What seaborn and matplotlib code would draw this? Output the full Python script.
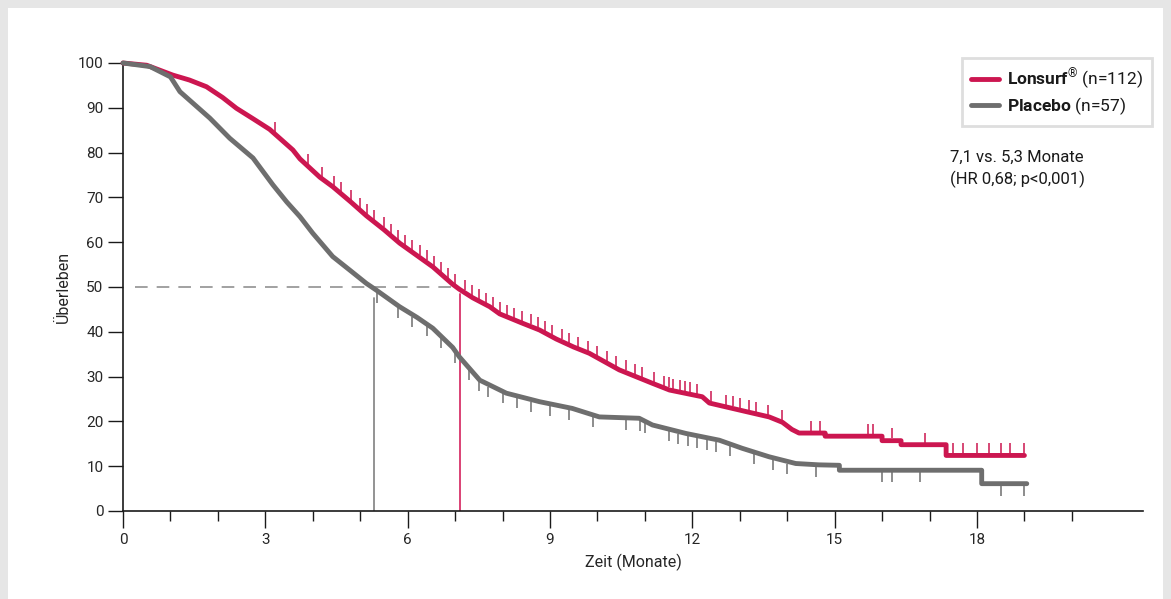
import numpy as np
import pandas as pd
import matplotlib.pyplot as plt
import matplotlib.ticker as ticker
import matplotlib.font_manager as fm
import seaborn as sns
from matplotlib.lines import Line2D
from matplotlib.patches import Rectangle

sns.set_theme(style="white")
installed = {f.name for f in fm.fontManager.ttflist}
main_font = next(f for f in ['Liberation Sans Narrow', 'Roboto', 'Liberation Sans', 'DejaVu Sans']
                 if f in installed)
plt.rcParams['font.family'] = [main_font, 'DejaVu Sans']
plt.rcParams['mathtext.fontset'] = 'custom'
plt.rcParams['mathtext.rm'] = main_font
plt.rcParams['mathtext.bf'] = main_font + ':bold'
plt.rcParams['text.color'] = '#1a1a1a'

# Kaplan-Meier curves (months, survival %)
lonsurf_t = [0, 0.5, 1.05, 1.4, 1.76, 2.1, 2.39, 2.75, 3.09, 3.58, 3.73, 4.15, 4.42, 4.8,
             5.13, 5.5, 5.83, 6.2, 6.53, 6.95, 7.09, 7.37, 7.73, 7.94, 8.4, 8.78, 9.13,
             9.5, 9.83, 10.46, 10.81, 11.16, 11.52, 12.21, 12.36, 13.13, 13.62, 13.9, 14.1,
             14.25, 14.8, 14.8, 16.0, 16.0, 16.4, 16.4, 17.35, 17.35, 19.0]
lonsurf_s = [100, 99.5, 97.3, 96.2, 94.7, 92.3, 89.9, 87.5, 85.2, 80.6, 78.6, 74.5, 72.4, 69.0,
             65.9, 62.8, 59.8, 57.0, 54.5, 50.6, 49.5, 47.6, 45.6, 44.0, 42.0, 40.4, 38.4,
             36.6, 35.2, 31.5, 30.0, 28.5, 27.0, 25.5, 24.1, 22.2, 21.0, 19.8, 18.2,
             17.4, 17.4, 16.7, 16.7, 15.7, 15.7, 14.8, 14.8, 12.4, 12.4]
placebo_t = [0, 0.57, 1.0, 1.2, 1.83, 2.25, 2.74, 3.16, 3.45, 3.73, 4.0, 4.42, 4.8, 5.13,
             5.34, 5.83, 6.2, 6.53, 6.95, 7.09, 7.52, 8.08, 8.78, 9.47, 10.04, 10.88,
             11.16, 11.87, 12.57, 13.05, 13.62, 14.18, 14.67, 15.1, 15.1, 18.1, 18.1, 19.05]
placebo_s = [100, 99.2, 96.9, 93.6, 87.7, 83.2, 78.8, 72.8, 69.0, 65.7, 62.0, 56.8, 53.6, 50.8,
             49.3, 45.6, 43.2, 40.8, 36.5, 34.4, 29.2, 26.3, 24.4, 22.9, 21.0, 20.7,
             19.2, 17.3, 15.8, 14.0, 12.1, 10.6, 10.3, 10.2, 9.1, 9.1, 6.1, 6.1]

# censored observations (months)
lonsurf_cens = [3.2, 3.9, 4.2, 4.45, 4.6, 4.8, 5.0, 5.15, 5.3, 5.5, 5.65, 5.8, 5.95, 6.1,
                6.25, 6.4, 6.55, 6.7, 6.85, 7.0, 7.2, 7.35, 7.5, 7.65, 7.8, 7.95, 8.1,
                8.25, 8.4, 8.6, 8.75, 8.9, 9.05, 9.25, 9.4, 9.6, 9.8, 10.0, 10.2, 10.4,
                10.6, 10.8, 10.95, 11.2, 11.4, 11.5, 11.6, 11.75, 11.85, 11.95, 12.1, 12.4,
                12.7, 12.85, 13.0, 13.2, 13.35, 13.6, 13.9, 14.5, 14.7, 15.7, 15.8, 16.2,
                16.9, 17.5, 17.7, 18.0, 18.25, 18.5, 18.7, 19.0]
placebo_cens = [5.35, 5.8, 6.1, 6.4, 6.7, 7.0, 7.3, 7.5, 7.7, 8.0, 8.3, 8.6, 9.0, 9.4,
                9.9, 10.6, 10.9, 11.0, 11.5, 11.7, 11.9, 12.1, 12.3, 12.5, 12.8, 13.3,
                13.7, 14.0, 14.6, 16.0, 16.2, 16.8, 18.5, 19.0]

median_lonsurf = 7.1
median_placebo = 5.3
colors = {'Lonsurf': '#cc1650', 'Placebo': '#6e6e6e'}
x_major = [0, 3, 6, 9, 12, 15, 18]
y_major = [0, 10, 20, 30, 40, 50, 60, 70, 80, 90, 100]

df = pd.concat([
    pd.DataFrame({'Zeit': lonsurf_t, 'Überleben': lonsurf_s, 'Gruppe': 'Lonsurf'}),
    pd.DataFrame({'Zeit': placebo_t, 'Überleben': placebo_s, 'Gruppe': 'Placebo'}),
], ignore_index=True)

fig = plt.figure(figsize=(11.71, 5.99), dpi=100)
fig.patch.set_facecolor('#e6e6e6')
fig.patches.append(Rectangle((8 / 1171, 0), 1155 / 1171, 591 / 599,
                             transform=fig.transFigure, facecolor='white',
                             edgecolor='none', zorder=-10))
ax = fig.add_axes([123 / 1171, 88 / 599, 1020 / 1171, 448 / 599])
ax.set_facecolor('none')

# median guide lines
ax.plot([0.25, 7.0], [50, 50], color='#9a9a9a', lw=1.3, dashes=(7, 5), zorder=1)
ax.plot([median_placebo, median_placebo], [0, 47.5], color='#8a8a8a', lw=1.3, zorder=1)
ax.plot([median_lonsurf, median_lonsurf], [0, 48.5], color='#d8336a', lw=1.3, zorder=1)

sns.lineplot(data=df[df['Gruppe'] == 'Lonsurf'], x='Zeit', y='Überleben',
             color=colors['Lonsurf'], lw=3.5, estimator=None, sort=False,
             ax=ax, zorder=3, clip_on=False)
sns.lineplot(data=df[df['Gruppe'] == 'Placebo'], x='Zeit', y='Überleben',
             color=colors['Placebo'], lw=3.5, estimator=None, sort=False,
             ax=ax, zorder=4, clip_on=False)

# censor marks: red ones point up, grey ones point down
for cens, tt, ss, name, off in [(lonsurf_cens, lonsurf_t, lonsurf_s, 'Lonsurf', 1.6),
                                (placebo_cens, placebo_t, placebo_s, 'Placebo', -1.6)]:
    yy = np.interp(cens, tt, ss) + off
    ax.plot(cens, yy, ls='none', marker='|', ms=6.5, mew=1.1,
            color=colors[name], zorder=5)

ax.set_xlim(0, 21.5)
ax.set_ylim(0, 100)
ax.xaxis.set_major_locator(ticker.FixedLocator(x_major))
ax.set_xticks(range(0, 21), minor=True)
ax.yaxis.set_major_locator(ticker.FixedLocator(y_major))
ax.tick_params(axis='x', which='major', direction='out', length=12, width=1,
               color='#1a1a1a', labelsize=11, pad=4, bottom=True)
ax.tick_params(axis='x', which='minor', direction='out', length=7.5, width=1,
               color='#1a1a1a', bottom=True)
ax.tick_params(axis='y', which='major', direction='out', length=11, width=1,
               color='#1a1a1a', labelsize=11, pad=3, left=True)
for side in ['top', 'right']:
    ax.spines[side].set_visible(False)
for side in ['left', 'bottom']:
    ax.spines[side].set_color('#1a1a1a')
    ax.spines[side].set_linewidth(1.2)
ax.set_xlabel('Zeit (Monate)', fontsize=11.5, labelpad=5)
ax.set_ylabel('Überleben', fontsize=11.5, labelpad=5)
ax.grid(False)

handles = [Line2D([], [], color=colors['Lonsurf'], lw=3.5),
           Line2D([], [], color=colors['Placebo'], lw=3.5)]
labels = [r'$\mathbf{Lonsurf}^{®}$ (n=112)', r'$\mathbf{Placebo}$ (n=57)']
leg = ax.legend(handles, labels, loc='upper right',
                bbox_to_anchor=(1152 / 1171, 1 - 58 / 599),
                bbox_transform=fig.transFigure, fontsize=12.5, frameon=True,
                fancybox=False, handlelength=1.6, handletextpad=0.5,
                labelspacing=0.2, borderpad=0.5, borderaxespad=0)
leg.get_frame().set_edgecolor('#d6d6d6')
leg.get_frame().set_linewidth(2)

fig.text(950 / 1171, 1 - 150 / 599, '7,1 vs. 5,3 Monate\n(HR 0,68; p<0,001)',
         fontsize=12, va='top', ha='left', linespacing=1.4)

plt.savefig('out.png', dpi=100)
